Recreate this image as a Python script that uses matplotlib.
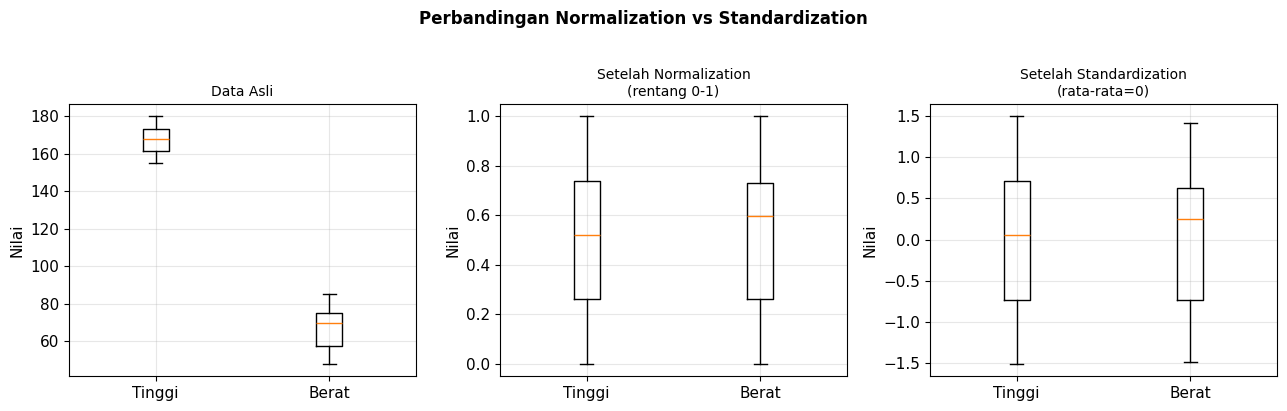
import matplotlib
matplotlib.use('Agg')
import matplotlib.pyplot as plt

labels = ['Tinggi', 'Berat']

# statistik boxplot: [whislo, q1, med, q3, whishi]
asli_tinggi = [155, 161.5, 168, 173.5, 180]
asli_berat = [48, 57.5, 69.5, 75, 85]

norm_tinggi = [0.0, 0.26, 0.52, 0.74, 1.0]
norm_berat = [0.0, 0.26, 0.595, 0.73, 1.0]

std_tinggi = [-1.51, -0.74, 0.05, 0.71, 1.50]
std_berat = [-1.49, -0.74, 0.245, 0.63, 1.42]


def to_stats(vals, label):
    return dict(whislo=vals[0], q1=vals[1], med=vals[2], q3=vals[3],
                whishi=vals[4], label=label, fliers=[])


panels = [
    ('Data Asli', [asli_tinggi, asli_berat]),
    ('Setelah Normalization\n(rentang 0-1)', [norm_tinggi, norm_berat]),
    ('Setelah Standardization\n(rata-rata=0)', [std_tinggi, std_berat]),
]

fig = plt.figure(figsize=(12.87, 4.11), dpi=100)
lefts = [0.0536, 0.3885, 0.7226]

for left, (title, data) in zip(lefts, panels):
    ax = fig.add_axes([left, 0.0852, 0.2696, 0.6618])
    stats = [to_stats(v, l) for v, l in zip(data, labels)]
    ax.bxp(stats, showfliers=False)
    ax.set_title(title, fontsize=10)
    ax.set_ylabel('Nilai', fontsize=11)
    ax.tick_params(labelsize=11)
    ax.grid(True, alpha=0.3)

fig.suptitle('Perbandingan Normalization vs Standardization',
             fontsize=12, fontweight='bold', y=0.975)

plt.savefig('out.png', dpi=100)
